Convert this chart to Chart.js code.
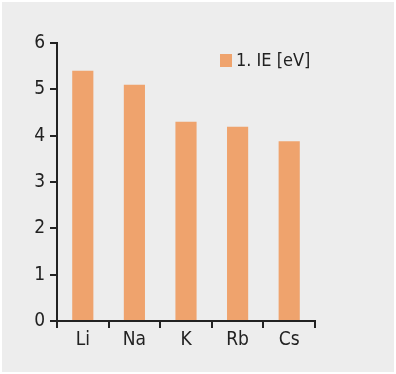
<!DOCTYPE html>
<html><head><meta charset="utf-8">
<script src="https://cdn.jsdelivr.net/npm/chart.js@4/dist/chart.umd.min.js"></script>
<style>html,body{margin:0;padding:0;background:#fff;}#wrap{width:396px;height:374px;}</style>
</head><body><div id="wrap"><canvas id="c" width="396" height="374"></canvas></div>
<script>
const categories = ["Li", "Na", "K", "Rb", "Cs"];
const ieValues = [5.40, 5.10, 4.30, 4.19, 3.88];
const seriesLabel = "1. IE [eV]";
const yTicks = [0, 1, 2, 3, 4, 5, 6];

const FONT = "'Liberation Sans Narrow', 'DejaVu Sans Condensed', sans-serif";
const INK = "#222222";
const BAR = "#efa36d";

const bgPlugin = {
  id: "bg",
  beforeDraw(chart) {
    const ctx = chart.ctx;
    ctx.save();
    ctx.fillStyle = "#ffffff";
    ctx.fillRect(0, 0, chart.width, chart.height);
    ctx.fillStyle = "#ededed";
    ctx.fillRect(2, 2, chart.width - 4, chart.height - 4);
    ctx.restore();
  }
};
const legendPlugin = {
  id: "innerLegend",
  afterDraw(chart) {
    const ctx = chart.ctx;
    const ds = chart.data.datasets[0];
    ctx.save();
    ctx.fillStyle = ds.backgroundColor;
    ctx.fillRect(220, 54, 12, 13);
    ctx.fillStyle = INK;
    ctx.font = "18px " + FONT;
    ctx.textBaseline = "middle";
    ctx.textAlign = "left";
    ctx.fillText(ds.label, 236, 61);
    ctx.restore();
  }
};

new Chart(document.getElementById("c"), {
  type: "bar",
  data: {
    labels: categories,
    datasets: [{ label: seriesLabel, data: ieValues, backgroundColor: BAR, barPercentage: 0.41, categoryPercentage: 1 }]
  },
  options: {
    responsive: false,
    animation: false,
    layout: { padding: { top: 43, right: 81, left: 0, bottom: 0 } },
    plugins: { legend: { display: false }, tooltip: { enabled: false } },
    scales: {
      x: {
        offset: true,
        grid: { offset: true, drawOnChartArea: false, drawTicks: true, tickLength: 7, color: INK, lineWidth: 2 },
        border: { display: true, color: INK, width: 2 },
        ticks: { color: INK, font: { family: FONT, size: 19 }, padding: 1 },
        afterFit(s) { s.height = 53; }
      },
      y: {
        min: 0, max: 6,
        afterBuildTicks(s) { s.ticks = yTicks.map(v => ({ value: v })); },
        grid: { drawOnChartArea: false, drawTicks: true, tickLength: 7, color: INK, lineWidth: 2 },
        border: { display: true, color: INK, width: 2 },
        ticks: { color: INK, font: { family: FONT, size: 19 }, padding: 5 },
        afterFit(s) { s.width = 57; }
      }
    }
  },
  plugins: [bgPlugin, legendPlugin]
});
</script></body></html>
